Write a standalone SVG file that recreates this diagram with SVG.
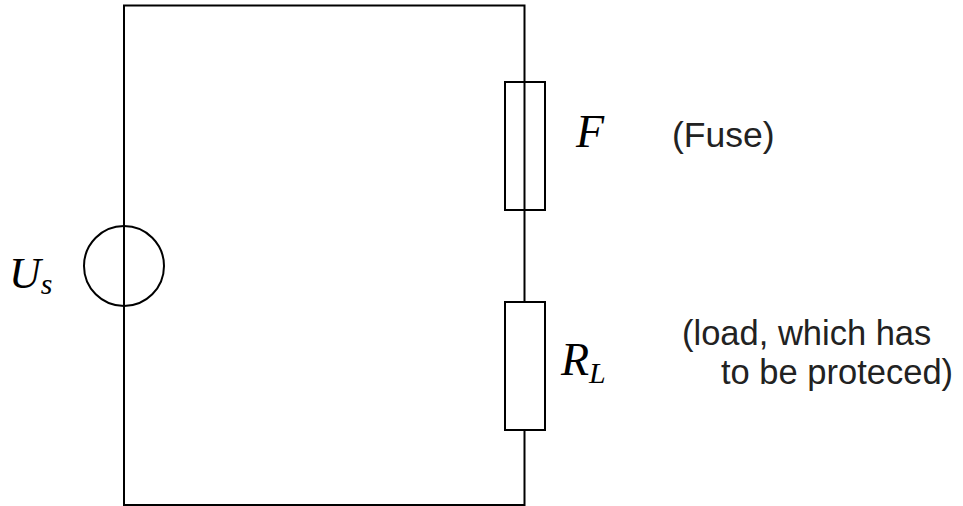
<svg xmlns="http://www.w3.org/2000/svg" width="963" height="506" viewBox="0 0 963 506">
<style>
.w{fill:none;stroke:#000;stroke-width:2}
.c{fill:#fff;stroke:#000;stroke-width:2}
.m{font-family:"Liberation Serif","DejaVu Serif",serif;font-style:italic;fill:#000}
.t{font-family:"Liberation Sans",Arial,sans-serif;font-size:35.5px;fill:#222}
.t2{font-family:"Liberation Sans",Arial,sans-serif;font-size:34.5px;fill:#222}
</style>
<rect width="963" height="506" fill="#fff"/>
<g id="connectors">
<path class="w" d="M124,226 V5.5 H524.5 V82 M524.5,210 V302 M524.5,430 V505 H124 V306"/>
</g>
<g id="source">
<circle class="c" cx="124" cy="266" r="40"/>
<line class="w" x1="124" y1="226" x2="124" y2="306"/>
<text class="m" x="9" y="288" font-size="44">U<tspan font-size="30" dy="6">s</tspan></text>
</g>
<g id="fuse">
<rect class="c" x="505" y="82" width="40" height="128"/>
<line class="w" x1="524.5" y1="82" x2="524.5" y2="210"/>
<text class="m" x="576" y="147" font-size="46">F</text>
<text class="t" x="672" y="147">(Fuse)</text>
</g>
<g id="load">
<rect class="c" x="505" y="302" width="40" height="128"/>
<text class="m" x="561" y="375" font-size="46">R<tspan font-size="30" dy="8">L</tspan></text>
<text class="t2" x="682" y="345">(load, which has</text>
<text class="t2" x="721" y="384">to be proteced)</text>
</g>
</svg>
